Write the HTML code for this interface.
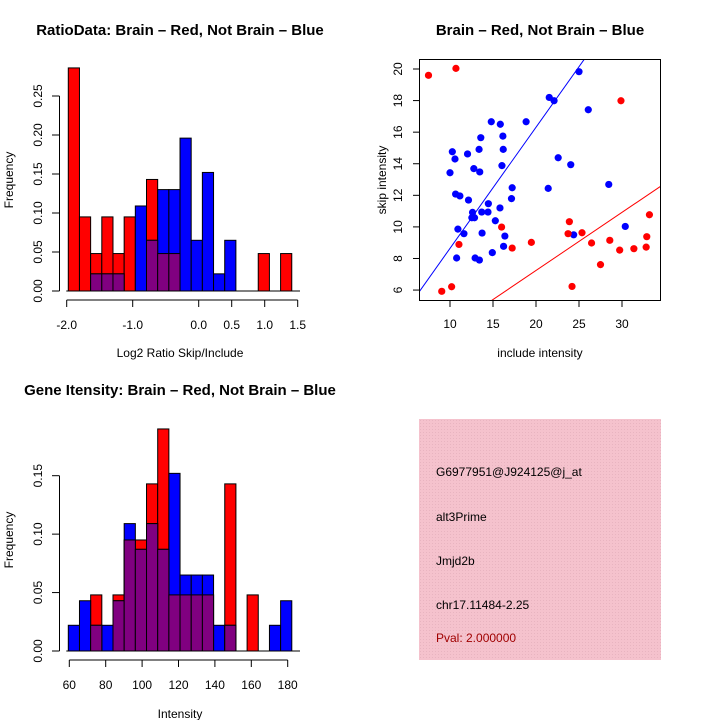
<!DOCTYPE html>
<html><head><meta charset="utf-8"><style>
html,body{margin:0;padding:0;background:#fff;}
svg{display:block;font-family:"Liberation Sans",Arial,sans-serif;}
</style></head><body>
<svg id="c" width="720" height="720" viewBox="0 0 720 720" xmlns="http://www.w3.org/2000/svg">
<text x="180" y="35" text-anchor="middle" font-size="15" font-weight="bold">RatioData: Brain – Red, Not Brain – Blue</text>
<text x="540" y="35" text-anchor="middle" font-size="15" font-weight="bold">Brain – Red, Not Brain – Blue</text>
<text x="180" y="395" text-anchor="middle" font-size="15" font-weight="bold">Gene Itensity: Brain – Red, Not Brain – Blue</text>
<text x="180" y="357" text-anchor="middle" font-size="12">Log2 Ratio Skip/Include</text>
<text x="180" y="718" text-anchor="middle" font-size="12">Intensity</text>
<text x="540" y="357" text-anchor="middle" font-size="12">include intensity</text>
<text transform="translate(13,180) rotate(-90)" text-anchor="middle" font-size="12">Frequency</text>
<text transform="translate(13,540) rotate(-90)" text-anchor="middle" font-size="12">Frequency</text>
<text transform="translate(386,180) rotate(-90)" text-anchor="middle" font-size="12">skip intensity</text>
<defs><pattern id="hatch" width="3" height="3" patternUnits="userSpaceOnUse"><rect width="3" height="3" fill="#f5c2cd"/><rect width="1" height="1" fill="#e8b4c0"/></pattern></defs>
<rect x="419" y="419" width="242" height="241" fill="url(#hatch)"/>
<g font-size="12">
<text x="436" y="476">G6977951@J924125@j_at</text>
<text x="436" y="521">alt3Prime</text>
<text x="436" y="565">Jmjd2b</text>
<text x="436" y="609">chr17.11484-2.25</text>
<text x="436" y="642" fill="#a00000">Pval: 2.000000</text>
</g>
<g id="g"></g>
</svg>
<script>
// Ratio histogram data
const ratioStart = -1.976, ratioWidth = 0.1693;
const ratioRed  = [.286,.095,.048,.095,.048,.095,0,.143,.048,.048,0,0,0,0,0,0,0,.048,0,.048];
const ratioBlue = [0,0,.022,.022,.022,0,.109,.065,.130,.130,.196,.065,.152,.022,.065,0,0,0,0,0];
const ratioXTicks = [-2.0,-1.0,0.0,0.5,1.0,1.5];
const ratioXLabels = ["-2.0","-1.0","0.0","0.5","1.0","1.5"];
const ratioYTicks = [0,0.05,0.10,0.15,0.20,0.25];
const ratioYLabels = ["0.00","0.05","0.10","0.15","0.20","0.25"];
// Intensity histogram data
const intStart = 59.45, intWidth = 6.14;
const intRed  = [0,0,.048,0,.048,.095,.095,.143,.190,.048,.048,.048,.048,0,.143,0,.048,0,0,0];
const intBlue = [.022,.043,.022,.022,.043,.109,.087,.109,.087,.152,.065,.065,.065,.022,.022,0,0,0,.022,.043];
const intXTicks = [60,80,100,120,140,160,180];
const intYTicks = [0,0.05,0.10,0.15];
const intYLabels = ["0.00","0.05","0.10","0.15"];
// Scatter data
const blueX = [25.0,21.54,22.1,26.08,14.8,18.85,15.85,13.58,16.15,10.27,13.38,16.19,12.04,10.58,22.58,24.04,10.0,12.77,13.46,16.04,28.46,21.42,17.23,10.65,11.15,12.15,14.46,15.81,17.15,12.62,13.69,14.42,12.54,12.85,15.27,30.38,10.92,11.62,13.73,16.38,24.38,16.23,14.92,10.77,12.92,13.42];
const blueY = [19.83,18.2,17.99,17.42,16.66,16.66,16.5,15.65,15.75,14.76,14.91,14.91,14.62,14.3,14.38,13.94,13.43,13.69,13.48,13.88,12.69,12.44,12.48,12.08,11.96,11.7,11.47,11.2,11.79,10.92,10.94,10.94,10.58,10.58,10.39,10.03,9.86,9.57,9.61,9.42,9.5,8.77,8.37,8.03,8.03,7.9];
const redX = [7.5,10.69,16.0,11.04,17.23,19.46,23.88,23.73,25.35,26.46,28.58,29.88,29.73,31.38,33.19,32.88,32.81,27.5,24.19,9.04,10.19];
const redY = [19.6,20.04,9.99,8.89,8.66,9.02,10.33,9.57,9.63,8.98,9.15,17.99,8.53,8.62,10.77,9.38,8.72,7.61,6.23,5.92,6.21];
const blueLine = [0.97, 0.767];
const redLine = [-0.12, 0.368];
const scXTicks = [10,15,20,25,30];
const scYTicks = [6,8,10,12,14,16,18,20];

const NS="http://www.w3.org/2000/svg", G=document.getElementById('g');
function mk(t,a,p){const e=document.createElementNS(NS,t);for(const k in a)e.setAttribute(k,a[k]);(p||G).appendChild(e);return e;}

function hist(prefix,start,width,red,blue,xs,ys,xt,xl,yt,yl){
  red.forEach((v,i)=>{ if(v<=0)return;
    const x0=xs(start+i*width), x1=xs(start+(i+1)*width);
    const r=mk('rect',{x:x0,y:ys(v),width:x1-x0,height:ys(0)-ys(v),fill:'#ff0000',stroke:'#000','stroke-width':1});
    
    });
  blue.forEach((v,i)=>{ if(v<=0)return;
    const x0=xs(start+i*width), x1=xs(start+(i+1)*width);
    const r=mk('rect',{x:x0,y:ys(v),width:x1-x0,height:ys(0)-ys(v),fill:'#0000ff',stroke:'#000','stroke-width':1});
    
    });
  red.forEach((v,i)=>{ const m=Math.min(v,blue[i]); if(m<=0)return;
    const x0=xs(start+i*width), x1=xs(start+(i+1)*width);
    const r=mk('rect',{x:x0,y:ys(m),width:x1-x0,height:ys(0)-ys(m),fill:'#800080',stroke:'#000','stroke-width':1});
    
    });
  const base=ys(0);
  const xa=mk('line',{x1:xs(xt[0]),x2:xs(xt[xt.length-1]),y1:base+9,y2:base+9,stroke:'#000'});
  
  
  xt.forEach((v,i)=>{mk('line',{x1:xs(v),x2:xs(v),y1:base+9,y2:base+16,stroke:'#000'});
    const t=mk('text',{x:xs(v),y:base+38,'text-anchor':'middle','font-size':12});t.textContent=xl[i];
    
    });
  const ya=mk('line',{x1:59.5,x2:59.5,y1:ys(yt[0]),y2:ys(yt[yt.length-1]),stroke:'#000'});
  
  
  yt.forEach((v,i)=>{mk('line',{x1:52,x2:59.5,y1:ys(v),y2:ys(v),stroke:'#000'});
    const t=mk('text',{'text-anchor':'middle','font-size':12,transform:`translate(42,${ys(v)}) rotate(-90)`});t.textContent=yl[i];
    
    });
  const bl=mk('line',{x1:xs(start)-2,x2:300,y1:base,y2:base,stroke:'#000'});
  
  
}
hist('ratio',ratioStart,ratioWidth,ratioRed,ratioBlue,v=>66.7+(v+2)*66,v=>291-v*780,ratioXTicks,ratioXLabels,ratioYTicks,ratioYLabels);
hist('intensity',intStart,intWidth,intRed,intBlue,v=>69.3+(v-60)*1.82,v=>651-v*1168.7,intXTicks,intXTicks.map(String),intYTicks,intYLabels);

// scatter
const sx=v=>450+(v-10)*8.6, sy=v=>69+(20-v)*15.79;
mk('clipPath',{id:'clp'});
mk('rect',{x:419.5,y:59.5,width:241,height:241},document.getElementById('clp'));
[[blueLine,'#0000ff','blue-fit-line'],[redLine,'#ff0000','red-fit-line']].forEach(([l,c,n])=>{
  const e=mk('line',{x1:sx(0),y1:sy(l[0]),x2:sx(40),y2:sy(l[0]+l[1]*40),stroke:c,'stroke-width':1,'clip-path':'url(#clp)'});
  
  });
blueX.forEach((v,i)=>{const c=mk('circle',{cx:sx(v),cy:sy(blueY[i]),r:3.6,fill:'#0000ff'});
  
  });
redX.forEach((v,i)=>{const c=mk('circle',{cx:sx(v),cy:sy(redY[i]),r:3.6,fill:'#ff0000'});
  
  });
const box=mk('rect',{x:419.5,y:59.5,width:241,height:241,fill:'none',stroke:'#000'});


scXTicks.forEach(v=>{mk('line',{x1:sx(v),x2:sx(v),y1:300.5,y2:307,stroke:'#000'});
  const t=mk('text',{x:sx(v),y:328,'text-anchor':'middle','font-size':12});t.textContent=v;
  
  });
scYTicks.forEach(v=>{mk('line',{x1:413,x2:419.5,y1:sy(v),y2:sy(v),stroke:'#000'});
  const t=mk('text',{'text-anchor':'middle','font-size':12,transform:`translate(402,${sy(v)}) rotate(-90)`});t.textContent=v;
  
  });
</script>
</body></html>
